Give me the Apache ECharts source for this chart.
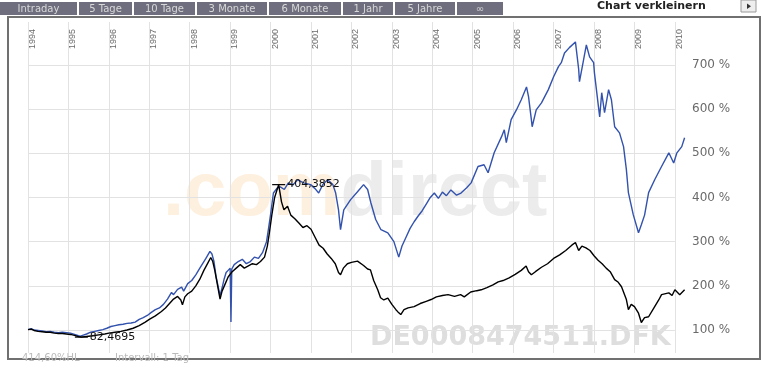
<!DOCTYPE html>
<html><head><meta charset="utf-8">
<script src="https://cdn.jsdelivr.net/npm/echarts@6/dist/echarts.min.js"></script>
<style>html,body{margin:0;padding:0;background:#fff}#c{width:770px;height:374px}</style>
</head><body><div id="c"></div>
<script>
// ---- data ----
const yearTicks = [1994,1995,1996,1997,1998,1999,2000,2001,2002,2003,2004,2005,2006,2007,2008,2009,2010];
const pctTicks = [100,200,300,400,500,600,700];
const tabLabels = ['Intraday','5 Tage','10 Tage','3 Monate','6 Monate','1 Jahr','5 Jahre','\u221E'];
const highLabel = '404,3852';
const lowLabel = '82,4695';
const footerRange = '414,60%HL';
const footerInterval = 'Intervall: 1 Tag';
const symbolText = 'DE0008474511.DFK';

const blueDates = [1994.00,1994.08,1994.15,1994.25,1994.35,1994.45,1994.55,1994.65,1994.75,1994.85,1994.95,1995.05,1995.15,1995.25,1995.30,1995.35,1995.45,1995.55,1995.65,1995.75,1995.85,1995.95,1996.05,1996.15,1996.25,1996.35,1996.45,1996.55,1996.65,1996.75,1996.85,1996.95,1997.05,1997.15,1997.25,1997.35,1997.45,1997.55,1997.60,1997.70,1997.80,1997.85,1997.95,1998.05,1998.15,1998.25,1998.35,1998.40,1998.45,1998.50,1998.55,1998.60,1998.65,1998.70,1998.75,1998.80,1998.85,1998.90,1998.95,1999.00,1999.02,1999.04,1999.10,1999.20,1999.30,1999.40,1999.50,1999.60,1999.70,1999.80,1999.90,1999.95,2000.00,2000.07,2000.17,2000.24,2000.34,2000.44,2000.55,2000.67,2000.82,2000.99,2001.10,2001.19,2001.29,2001.41,2001.54,2001.61,2001.68,2001.73,2001.81,2001.98,2002.15,2002.30,2002.40,2002.48,2002.60,2002.73,2002.90,2003.05,2003.17,2003.25,2003.35,2003.45,2003.55,2003.65,2003.75,2003.85,2003.95,2004.05,2004.15,2004.25,2004.35,2004.46,2004.60,2004.71,2004.85,2004.96,2005.13,2005.28,2005.38,2005.53,2005.71,2005.78,2005.83,2005.95,2006.08,2006.20,2006.33,2006.38,2006.45,2006.47,2006.57,2006.70,2006.87,2007.00,2007.12,2007.19,2007.27,2007.39,2007.54,2007.62,2007.64,2007.74,2007.81,2007.89,2007.99,2008.01,2008.11,2008.14,2008.19,2008.26,2008.36,2008.43,2008.51,2008.63,2008.73,2008.80,2008.85,2008.97,2009.10,2009.17,2009.25,2009.35,2009.50,2009.67,2009.85,2009.97,2010.05,2010.17,2010.24];
const blueValues = [101,103,100,99,98,96,97,95,94,95,94,93,90,87,86,88,91,95,97,99,101,104,108,110,112,113,115,116,118,124,128,133,140,146,150,158,170,185,180,192,197,188,205,212,225,240,255,262,270,278,272,255,222,200,178,195,215,230,235,240,118,238,248,255,260,250,255,265,262,275,300,330,362,410,422,424,418,433,428,440,433,429,420,410,429,440,429,410,372,327,372,395,413,429,418,388,350,327,320,300,265,290,310,330,345,358,370,385,400,410,398,412,404,417,405,410,422,433,470,474,456,501,537,553,524,576,598,621,650,628,576,560,598,614,644,673,696,705,727,739,752,690,662,711,745,718,705,682,605,582,637,592,644,621,560,546,515,463,411,361,320,338,360,411,440,470,501,478,501,515,535];

const blackDates = [1994.00,1994.08,1994.15,1994.25,1994.35,1994.45,1994.55,1994.65,1994.75,1994.85,1994.95,1995.05,1995.15,1995.25,1995.32,1995.40,1995.50,1995.60,1995.75,1995.90,1996.00,1996.15,1996.30,1996.45,1996.60,1996.75,1996.90,1997.00,1997.15,1997.30,1997.40,1997.50,1997.60,1997.70,1997.78,1997.82,1997.88,1997.95,1998.05,1998.15,1998.25,1998.35,1998.45,1998.52,1998.57,1998.62,1998.68,1998.75,1998.80,1998.88,1998.95,1999.05,1999.15,1999.25,1999.35,1999.45,1999.55,1999.65,1999.75,1999.85,1999.92,1999.97,2000.03,2000.10,2000.20,2000.27,2000.33,2000.42,2000.50,2000.60,2000.70,2000.80,2000.90,2001.00,2001.10,2001.20,2001.30,2001.40,2001.50,2001.60,2001.68,2001.73,2001.80,2001.90,2002.00,2002.15,2002.30,2002.40,2002.47,2002.55,2002.65,2002.72,2002.80,2002.90,2003.00,2003.10,2003.15,2003.22,2003.30,2003.40,2003.55,2003.70,2003.85,2003.97,2004.10,2004.25,2004.39,2004.55,2004.70,2004.79,2004.95,2005.10,2005.21,2005.35,2005.50,2005.63,2005.75,2005.90,2006.05,2006.20,2006.32,2006.38,2006.45,2006.55,2006.70,2006.85,2007.00,2007.15,2007.30,2007.45,2007.54,2007.62,2007.70,2007.80,2007.90,2008.00,2008.10,2008.20,2008.30,2008.40,2008.51,2008.60,2008.68,2008.80,2008.85,2008.92,2009.00,2009.10,2009.17,2009.25,2009.35,2009.50,2009.60,2009.67,2009.85,2009.93,2010.00,2010.12,2010.24];
const blackValues = [101,102,99,97,96,95,95,93,92,92,91,90,88,85,84,85,86,87,89,91,93,95,97,100,104,110,118,124,132,142,150,160,170,176,168,157,175,182,188,200,215,235,252,264,255,235,205,170,188,205,220,232,240,248,240,245,250,248,255,265,290,320,360,400,429,390,372,380,360,352,342,332,336,328,310,292,285,272,262,250,230,225,240,250,253,256,246,238,236,212,191,173,168,172,158,146,141,135,146,150,153,160,165,169,175,178,180,176,180,175,186,189,191,196,202,209,212,218,226,235,245,232,225,232,242,250,262,270,280,292,298,280,290,286,280,268,258,250,240,232,214,208,198,169,146,158,153,138,117,128,130,153,168,180,184,178,191,180,191];

// ---- chart ----
const zip = (xs, ys) => xs.map((x, i) => [x, ys[i]]);
const FONT = "'DejaVu Sans', Verdana, sans-serif";
const chart = echarts.init(document.getElementById('c'), null, {renderer: 'canvas'});
const firstYear = yearTicks[0], lastYear = yearTicks[yearTicks.length - 1];

// top tab bar layout
const tabEdges = [[0,77],[79,132],[134,195],[197,267],[269,341],[343,393],[395,455],[457,503]];
const graphics = [];
tabLabels.forEach((t, i) => {
  const [a, b] = tabEdges[i];
  graphics.push({type:'rect', shape:{x:a, y:2, width:b-a, height:13}, style:{fill:'#6e6e7e'}, z:10});
  graphics.push({type:'text', x:(a+b)/2, y:9, style:{text:t, fill:'#d8d8d8', font:"10px " + FONT, align:'center', verticalAlign:'middle'}, z:11});
});
graphics.push({type:'text', x:597, y:6, style:{text:'Chart verkleinern', fill:'#222', font:"bold 11px " + FONT, align:'left', verticalAlign:'middle'}, z:11});
graphics.push({type:'rect', shape:{x:741, y:0, width:15, height:12}, style:{fill:'#eeeeee', stroke:'#9a9a9a', lineWidth:1}, z:11});
graphics.push({type:'polygon', shape:{points:[[747,3.5],[747,9],[751,6.2]]}, style:{fill:'#333'}, z:12});
// frame
graphics.push({type:'rect', shape:{x:8, y:17, width:752, height:342}, style:{fill:null, stroke:'#707070', lineWidth:2}, z:10});
// watermarks
graphics.push({type:'text', x:163, y:194, style:{
  text:'{a|.com}{b|direct}', align:'left', verticalAlign:'middle',
  rich:{a:{fill:'#fef0df', font:"bold 76px 'Liberation Sans', Arial, sans-serif"},
        b:{fill:'#ececec', font:"bold 76px 'Liberation Sans', Arial, sans-serif"}}}, z:0, silent:true});
graphics.push({type:'text', x:370, y:338, style:{text:symbolText, fill:'#dedede', font:"bold 27px " + FONT, align:'left', verticalAlign:'middle'}, z:0, silent:true});
// footer
graphics.push({type:'text', x:22, y:358, style:{text:footerRange, fill:'#bbbbbb', font:"10px " + FONT, align:'left', verticalAlign:'middle'}, z:11});
graphics.push({type:'text', x:115, y:358, style:{text:footerInterval, fill:'#bbbbbb', font:"10px " + FONT, align:'left', verticalAlign:'middle'}, z:11});

const option = {
  animation: false,
  backgroundColor: '#ffffff',
  grid: {left: 28, right: 85, top: 22, bottom: 21, containLabel: false},
  xAxis: {
    type: 'value', position: 'top', min: firstYear, max: 2010.25,
    axisLine: {show: false},
    axisTick: {show: false, customValues: yearTicks},
    axisLabel: {customValues: yearTicks, inside: true, rotate: -90, margin: 7, align: 'right', verticalAlign: 'top',
      color: '#6a6a6a', fontSize: 9, fontFamily: "'Liberation Sans', Arial, sans-serif",
      formatter: v => String(v)},
    splitLine: {show: true, lineStyle: {color: '#e2e2e2', width: 1}}
  },
  yAxis: {
    type: 'value', position: 'right', min: 48, max: 797,
    axisLine: {show: false},
    axisTick: {show: false, customValues: pctTicks},
    axisLabel: {customValues: pctTicks, formatter: v => v + ' %', color: '#6a6a6a', fontSize: 12, fontFamily: FONT, margin: 7},
    splitLine: {show: false}
  },
  series: [
    {type: 'line', name: 'blue', data: zip(blueDates, blueValues), showSymbol: false, clip: false,
     lineStyle: {color: '#3252ad', width: 1.4}, z: 3,
     markLine: {
       silent: true, symbol: ['none', 'none'], label: {show: false}, animation: false,
       lineStyle: {color: '#e2e2e2', width: 1, type: 'solid'}, z: 1,
       data: pctTicks.map(v => [{coord: [firstYear, v]}, {coord: [lastYear, v]}])
     }},
    {type: 'line', name: 'black', data: zip(blackDates, blackValues), showSymbol: false, clip: false,
     lineStyle: {color: '#000000', width: 1.4}, z: 4,
     markPoint: {
       symbol: 'rect', symbolSize: [13, 1.2], itemStyle: {color: '#000'}, silent: true,
       label: {show: true, position: 'right', distance: 2, color: '#111', fontSize: 11, fontFamily: FONT},
       data: [
         {type: 'max', label: {formatter: highLabel}},
         {type: 'min', label: {formatter: lowLabel}}
       ]
     }}
  ],
  graphic: graphics
};
chart.setOption(option);
</script></body></html>
